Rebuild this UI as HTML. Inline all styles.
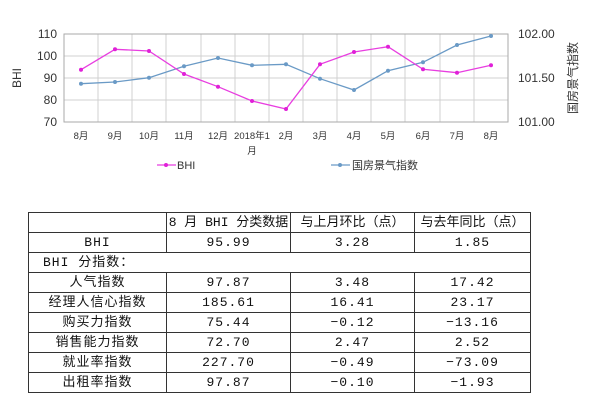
<!DOCTYPE html>
<html><head><meta charset="utf-8"><style>
body{margin:0;background:#fff;width:600px;height:400px;overflow:hidden;position:relative;font-family:"Liberation Sans","Noto Sans CJK SC",sans-serif}
svg{position:absolute;left:0;top:0}
table{position:absolute;left:28px;top:212px;width:502px;border-collapse:collapse;table-layout:fixed;font-family:"Liberation Mono","Noto Sans CJK SC",monospace;font-size:13px;color:#111}
td{border:1px solid #333;height:19px;padding:0;text-align:center;line-height:19px;letter-spacing:1px;white-space:nowrap;overflow:hidden}
tr.h td{letter-spacing:0}
</style></head><body>
<svg width="600" height="200" font-family="Liberation Sans, Noto Sans CJK SC, sans-serif">
<g stroke="#d0d0d0" stroke-width="1">
<line x1="64" y1="56" x2="508" y2="56"/><line x1="64" y1="78" x2="508" y2="78"/><line x1="64" y1="100" x2="508" y2="100"/>
<line x1="98" y1="34" x2="98" y2="122"/><line x1="132" y1="34" x2="132" y2="122"/><line x1="166" y1="34" x2="166" y2="122"/><line x1="201" y1="34" x2="201" y2="122"/><line x1="235" y1="34" x2="235" y2="122"/><line x1="269" y1="34" x2="269" y2="122"/><line x1="303" y1="34" x2="303" y2="122"/><line x1="337" y1="34" x2="337" y2="122"/><line x1="371" y1="34" x2="371" y2="122"/><line x1="405" y1="34" x2="405" y2="122"/><line x1="440" y1="34" x2="440" y2="122"/><line x1="474" y1="34" x2="474" y2="122"/>
</g>
<rect x="64" y="34" width="444" height="88" fill="none" stroke="#aaa"/>
<g font-size="12" fill="#333" text-anchor="end"><text x="57" y="38">110</text><text x="57" y="60">100</text><text x="57" y="82">90</text><text x="57" y="104">80</text><text x="57" y="126">70</text></g>
<g font-size="12" fill="#333"><text x="518" y="38">102.00</text><text x="518" y="82">101.50</text><text x="518" y="126">101.00</text></g>
<text transform="translate(21,78) rotate(-90)" font-size="12" fill="#333" text-anchor="middle">BHI</text>
<text transform="translate(577,78) rotate(-90)" font-size="12" fill="#333" text-anchor="middle">国房景气指数</text>
<g font-size="9.5" fill="#333" text-anchor="middle">
<text x="81" y="139">8月</text><text x="115" y="139">9月</text><text x="149" y="139">10月</text><text x="184" y="139">11月</text><text x="218" y="139">12月</text><text x="252" y="139">2018年1</text><text x="252" y="154">月</text><text x="286" y="139">2月</text><text x="320" y="139">3月</text><text x="354" y="139">4月</text><text x="388" y="139">5月</text><text x="423" y="139">6月</text><text x="457" y="139">7月</text><text x="491" y="139">8月</text></g>
<polyline fill="none" stroke="#6a9ac6" stroke-width="1.3" points="81,83.7 115,82 149,77.7 184,66.3 218,58 252,65.3 286,64.3 320,78.7 354,90 388,70.7 423,62.3 457,45 491,36"/>
<g fill="#6a9ac6"><circle cx="81" cy="83.7" r="2"/><circle cx="115" cy="82" r="2"/><circle cx="149" cy="77.7" r="2"/><circle cx="184" cy="66.3" r="2"/><circle cx="218" cy="58" r="2"/><circle cx="252" cy="65.3" r="2"/><circle cx="286" cy="64.3" r="2"/><circle cx="320" cy="78.7" r="2"/><circle cx="354" cy="90" r="2"/><circle cx="388" cy="70.7" r="2"/><circle cx="423" cy="62.3" r="2"/><circle cx="457" cy="45" r="2"/><circle cx="491" cy="36" r="2"/></g>
<polyline fill="none" stroke="#e83ee0" stroke-width="1.3" points="81,69.7 115,49.3 149,51 184,74 218,86.7 252,101 286,109 320,64.3 354,52 388,46.7 423,69.3 457,72.7 491,65.3"/>
<g fill="#e020d8"><circle cx="81" cy="69.7" r="2"/><circle cx="115" cy="49.3" r="2"/><circle cx="149" cy="51" r="2"/><circle cx="184" cy="74" r="2"/><circle cx="218" cy="86.7" r="2"/><circle cx="252" cy="101" r="2"/><circle cx="286" cy="109" r="2"/><circle cx="320" cy="64.3" r="2"/><circle cx="354" cy="52" r="2"/><circle cx="388" cy="46.7" r="2"/><circle cx="423" cy="69.3" r="2"/><circle cx="457" cy="72.7" r="2"/><circle cx="491" cy="65.3" r="2"/></g>
<line x1="157" y1="165" x2="176" y2="165" stroke="#e83ee0" stroke-width="1.3"/><circle cx="166" cy="165" r="2" fill="#e020d8"/>
<text x="177" y="169" font-size="11" fill="#333">BHI</text>
<line x1="331" y1="165" x2="350" y2="165" stroke="#6a9ac6" stroke-width="1.3"/><circle cx="340" cy="165" r="2" fill="#6a9ac6"/>
<text x="352" y="169" font-size="11" fill="#333">国房景气指数</text>
</svg>
<table>
<colgroup><col style="width:138px"><col style="width:124px"><col style="width:124px"><col style="width:116px"></colgroup>
<tr class="h"><td></td><td>8 月 BHI 分类数据</td><td>与上月环比（点）</td><td>与去年同比（点）</td></tr>
<tr><td>BHI</td><td>95.99</td><td>3.28</td><td>1.85</td></tr>
<tr><td colspan="4" style="text-align:left;padding-left:14px">BHI 分指数：</td></tr>
<tr><td>人气指数</td><td>97.87</td><td>3.48</td><td>17.42</td></tr>
<tr><td>经理人信心指数</td><td>185.61</td><td>16.41</td><td>23.17</td></tr>
<tr><td>购买力指数</td><td>75.44</td><td>−0.12</td><td>−13.16</td></tr>
<tr><td>销售能力指数</td><td>72.70</td><td>2.47</td><td>2.52</td></tr>
<tr><td>就业率指数</td><td>227.70</td><td>−0.49</td><td>−73.09</td></tr>
<tr><td>出租率指数</td><td>97.87</td><td>−0.10</td><td>−1.93</td></tr>
</table>
</body></html>
